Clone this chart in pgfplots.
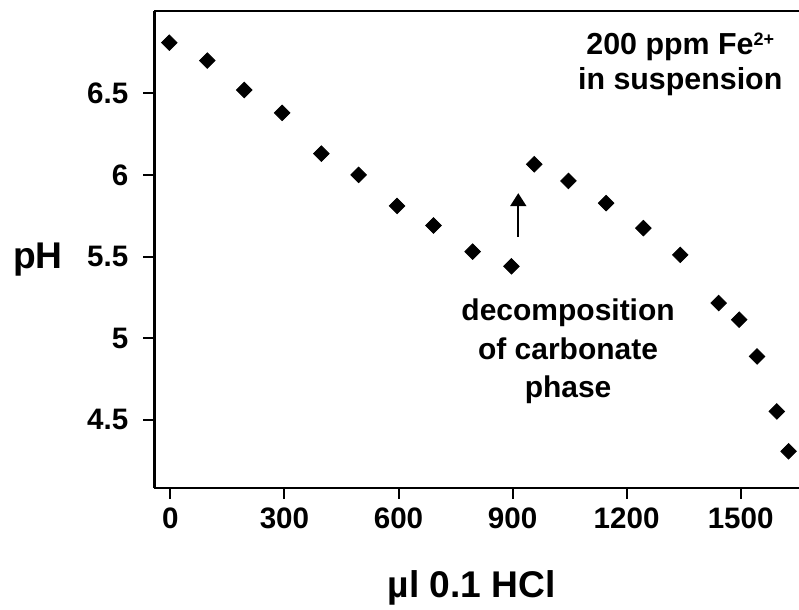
\documentclass[border=0pt]{standalone}
\usepackage{pgfplots}
\pgfplotsset{compat=1.18}
\usepackage{fontspec}
\setmainfont{Liberation Sans}
\usetikzlibrary{arrows.meta}
\begin{document}
\begin{tikzpicture}
\begin{axis}[
  scale only axis,
  width=322.5pt, height=238.5pt,
  xmin=-42.1, xmax=1653.4,
  ymin=4.084, ymax=7.004,
  axis x line=box, axis y line=left,
  axis line style={line width=1.2pt, -},
  xtick pos=bottom,
  tick align=outside,
  major tick length=5.5pt,
  every tick/.style={line width=1pt, black},
  xtick={0,300,600,900,1200,1500},
  xticklabels={0,300,600,900,1200,1500},
  ytick={4.5,5,5.5,6,6.5},
  yticklabels={4.5,5,5.5,6,6.5},
  tick label style={font=\fontsize{14.8}{17}\selectfont\bfseries},
  yticklabel style={xshift=-4pt},
  xticklabel style={yshift=-1pt},
  clip=false,
]
\addplot[only marks, mark=square*, mark size=2.75pt, mark options={rotate=45, fill=black, draw=black}] coordinates {
(-3,6.81) (97,6.70) (194,6.52) (294,6.38) (397,6.13) (495,6.00)
(596,5.81) (692,5.69) (795,5.53) (897,5.44)
(957,6.065) (1047,5.963) (1146,5.827) (1244,5.674) (1341,5.51)
(1442,5.215) (1496,5.113) (1543,4.888) (1595,4.551) (1626,4.307)
};
\node[font=\fontsize{15.2}{17.5}\selectfont\bfseries, align=center] at (axis cs:1341,6.677) {200 ppm Fe\raisebox{0.55ex}{\fontsize{9}{9}\selectfont 2+}\\in suspension};
\node[font=\fontsize{15}{19.25}\selectfont\bfseries, align=center] at (axis cs:1046,4.917) {decomposition\\of carbonate\\phase};
\draw[line width=1pt, -{Triangle[width=8pt,length=6.5pt]}] (axis cs:915,5.622) -- (axis cs:915,5.888);
\end{axis}
\node[font=\fontsize{18.6}{20}\selectfont\bfseries] at ([shift={(-58.25pt,-5.25pt)}]current axis.west) {pH};
\node[font=\fontsize{18.6}{20}\selectfont\bfseries, anchor=base] at ([shift={(-2.4pt,-55pt)}]current axis.south) {µl 0.1 HCl};
\pgfresetboundingbox
\path[use as bounding box] ([shift={(-77.25pt,-61pt)}]current axis.south west) rectangle ([shift={(0pt,5.5pt)}]current axis.north east);
\end{tikzpicture}
\end{document}
